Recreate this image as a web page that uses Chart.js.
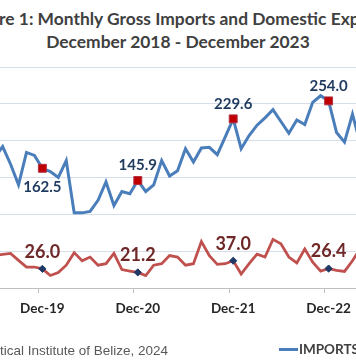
<!DOCTYPE html>
<html><head><meta charset="utf-8">
<script src="https://cdn.jsdelivr.net/npm/chart.js@4.4.1/dist/chart.umd.min.js"></script>
<style>
html,body{margin:0;padding:0;background:#fff;}
body{width:356px;height:364px;overflow:hidden;position:relative;}
#title{position:absolute;left:-322px;width:1000px;top:8px;text-align:center;font:700 17.4px Lato,sans-serif;line-height:22.5px;color:#404040;white-space:nowrap;}
#c{position:absolute;left:0;top:0;}
#source{position:absolute;right:188px;top:343px;font:13.5px "Liberation Sans",Arial,sans-serif;color:#595959;white-space:nowrap;}
#legend{position:absolute;left:279px;top:341px;font:700 13.5px Lato,sans-serif;color:#404040;white-space:nowrap;display:flex;align-items:center;}
.sw{display:inline-block;width:19px;height:3px;margin-right:1px;}
</style></head>
<body>
<div id="title">Figure 1: Monthly Gross Imports and Domestic Exports<br>December 2018 - December 2023</div>
<canvas id="c" width="545" height="300"></canvas>
<div id="source">Source: Statistical Institute of Belize, 2024</div>
<div id="legend"><span class="sw" style="background:#4a7ebb"></span><span>IMPORTS</span><span class="sw" style="background:#c0504d;margin-left:14px"></span><span>EXPORTS</span></div>
<script>
const months = ['Dec-18','Jan-19','Feb-19','Mar-19','Apr-19','May-19','Jun-19','Jul-19','Aug-19','Sep-19','Oct-19','Nov-19',
  'Dec-19','Jan-20','Feb-20','Mar-20','Apr-20','May-20','Jun-20','Jul-20','Aug-20','Sep-20','Oct-20','Nov-20',
  'Dec-20','Jan-21','Feb-21','Mar-21','Apr-21','May-21','Jun-21','Jul-21','Aug-21','Sep-21','Oct-21','Nov-21',
  'Dec-21','Jan-22','Feb-22','Mar-22','Apr-22','May-22','Jun-22','Jul-22','Aug-22','Sep-22','Oct-22','Nov-22',
  'Dec-22','Jan-23','Feb-23','Mar-23','Apr-23','May-23','Jun-23','Jul-23','Aug-23','Sep-23','Oct-23','Nov-23','Dec-23'];

const imports = [183.0,165,158,185,178,195,177,192,168,140,184,180,
  162.5,158,150,173,102,102,104,119,144,112,131,128,
  145.9,131,140,173,152,159,189,171,190,191,181,205,
  229.6,189,207,221,231,242,226,210,228,222,252,261,
  254.0,211,198,236,195,245,232,240,228,236,250,246,258.3];

const exports_ = [28.4,22,25,38,47,52,44,45.5,47,37.5,28.5,28.5,
  26.0,17,21,31,48,37,42,31,33,47,25,23,
  21.2,17,31,33,44,42,31,33,63,44,32,33,
  37.0,19,33,46,42,66,60,42,34,53,35,23,
  26.4,24,22.5,37,54,48,41,36,30,44,35,28,31.2];

const tickLabels = ['Dec-18','Dec-19','Dec-20','Dec-21','Dec-22','Dec-23'];
const yTicks = [0,50,100,150,200,250,300];

const isDec = i => tickLabels.includes(months[i]);

const labelStyles = [
  {font:'700 15px Lato', color:'#1f3a5f', above:-15, below:19, belowAt:['Dec-19']},
  {font:'700 18px Lato', color:'#6f2727', above:-17, below:17, belowAt:[]}
];

const decLabels = {
  id:'decLabels',
  afterDatasetsDraw(chart){
    const ctx = chart.ctx;
    chart.data.datasets.forEach((ds, di) => {
      const meta = chart.getDatasetMeta(di);
      const st = labelStyles[di];
      chart.data.labels.forEach((lab, i) => {
        if (!isDec(i)) return;
        const pt = meta.data[i];
        const dy = st.belowAt.includes(lab) ? st.below : st.above;
        ctx.save();
        ctx.font = st.font; ctx.fillStyle = st.color;
        ctx.textAlign = 'center'; ctx.textBaseline = 'middle';
        ctx.fillText(ds.data[i].toFixed(1), pt.x, pt.y + dy);
        ctx.restore();
      });
    });
  }
};

const canvas = document.getElementById('c');
const chart = new Chart(canvas, {
  type:'line',
  data:{
    labels: months,
    datasets:[
      {label:'IMPORTS', data:imports, borderColor:'#4a7ebb', borderWidth:3, tension:0, fill:false,
       pointStyle:'rect', pointRadius: c => isDec(c.dataIndex) ? 5.6 : 0,
       pointBackgroundColor:'#c00000', pointBorderColor:'#b03040', pointBorderWidth:1},
      {label:'EXPORTS', data:exports_, borderColor:'#c0504d', borderWidth:2.75, tension:0, fill:false,
       pointStyle:'rectRot', pointRadius: c => isDec(c.dataIndex) ? 3.6 : 0,
       pointBackgroundColor:'#1f3864', pointBorderColor:'#1f3864', pointBorderWidth:1}
    ]
  },
  options:{
    responsive:false, maintainAspectRatio:false, animation:false, events:[],
    layout:{padding:{left:30,right:30,top:10,bottom:40}},
    plugins:{legend:{display:false}, title:{display:false}, tooltip:{enabled:false}},
    scales:{
      x:{type:'category', offset:true,
        grid:{offset:true, drawOnChartArea:false, tickLength:5, lineWidth:1,
              color: c => (c.index !== undefined && isDec(c.index)) ? '#bfbfbf' : 'rgba(0,0,0,0)'},
        border:{color:'#bfbfbf', width:1},
        ticks:{autoSkip:false, maxRotation:0, minRotation:0, padding:8, color:'#262626',
               font:{family:'Lato', weight:'bold', size:13.5},
               callback:(v,i) => isDec(i) ? months[i] : ''}
      },
      y:{min:0, max:300, afterBuildTicks: s => { s.ticks = yTicks.map(v => ({value:v})); },
        ticks:{display:false}, grid:{color:'#d6deec', drawTicks:false, lineWidth:1}, border:{display:false}}
    }
  },
  plugins:[decLabels]
});

// place the plot region: chart area 485 x 221, top-left at (-57, 67)
const PLOT_LEFT = -57, PLOT_TOP = 67, PLOT_H = 221;
let ca = chart.chartArea;
chart.options.layout.padding.bottom = Math.max(0, 40 + (ca.bottom - ca.top) - PLOT_H);
chart.update();
ca = chart.chartArea;
canvas.style.left = (PLOT_LEFT - ca.left) + 'px';
canvas.style.top = (PLOT_TOP - ca.top) + 'px';
</script>
</body></html>
